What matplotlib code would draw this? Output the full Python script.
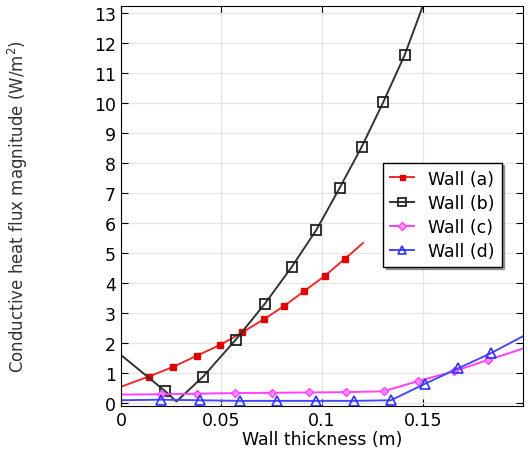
import numpy as np
import matplotlib.pyplot as plt

# Wall (a)
xa = [0.0, 0.0138, 0.0259, 0.0379, 0.0495, 0.0603, 0.0711, 0.0811, 0.091, 0.1013, 0.1113, 0.1204]
ya = [0.54, 0.88, 1.20, 1.58, 1.94, 2.35, 2.79, 3.23, 3.72, 4.23, 4.80, 5.33]
# Wall (b)
xb = [0.0, 0.0221, 0.0276, 0.0409, 0.057, 0.0716, 0.0849, 0.0972, 0.1087, 0.1196, 0.1304, 0.1411, 0.1505]
yb = [1.60, 0.39, 0.05, 0.88, 2.10, 3.31, 4.53, 5.77, 7.16, 8.52, 10.02, 11.6, 13.3]
# Wall (c)
xc = [0.0, 0.0201, 0.0379, 0.0565, 0.0749, 0.0934, 0.112, 0.1306, 0.1478, 0.1658, 0.1824, 0.2003]
yc = [0.28, 0.29, 0.31, 0.33, 0.34, 0.35, 0.36, 0.39, 0.73, 1.06, 1.43, 1.82]
# Wall (d)
xd = [0.0, 0.0201, 0.0392, 0.0591, 0.0774, 0.0968, 0.116, 0.1342, 0.1512, 0.1678, 0.184, 0.2003]
yd = [0.09, 0.11, 0.09, 0.07, 0.07, 0.07, 0.07, 0.09, 0.64, 1.16, 1.66, 2.24]

fig = plt.figure(figsize=(5.28, 4.56), dpi=100)
ax = fig.add_axes([0.229, 0.1075, 0.762, 0.8775])

ax.plot(xa, ya, color='#ee2a2a', lw=1.4, marker='s', ms=4.5, mfc='#e00000', mec='#e00000',
        markevery=list(range(1, len(xa) - 1)), label='Wall (a)')
ax.plot(xb, yb, color='#333333', lw=1.4, marker='s', ms=7, mfc='none', mec='#222222', mew=1.3,
        markevery=[1, 3, 4, 5, 6, 7, 8, 9, 10, 11], label='Wall (b)')
ax.plot(xc, yc, color='#ff40ff', lw=1.4, marker='D', ms=4.5, mfc='#ff90ff', mec='#ff40ff',
        markevery=list(range(1, len(xc) - 1)), label='Wall (c)')
ax.plot(xd, yd, color='#4848ff', lw=1.4, marker='^', ms=6.5, mfc='none', mec='#3030ff', mew=1.2,
        markevery=list(range(1, len(xd) - 1)), label='Wall (d)')

ax.set_xlim(0, 0.2)
ax.set_ylim(-0.1, 13.23)
ax.set_xticks([0, 0.05, 0.1, 0.15])
ax.set_xticklabels(['0', '0.05', '0.1', '0.15'])
ax.set_yticks(range(0, 14))
ax.tick_params(direction='in', top=True, right=True, labelsize=12.5, length=5)
ax.grid(True, color='#e6e6e6', lw=1)
ax.set_axisbelow(True)

ax.set_xlabel('Wall thickness (m)', fontsize=12.5, labelpad=1)
ax.set_ylabel('Conductive heat flux magnitude (W/m$^2$)', fontsize=12, color='#333333', labelpad=46)

leg = ax.legend(loc='upper right', bbox_to_anchor=(0.968, 0.63), fontsize=12.5, fancybox=False,
                shadow=True, edgecolor='black', framealpha=1, handlelength=1.4, borderpad=0.4,
                labelspacing=0.35, markerscale=0.8)
leg.get_frame().set_linewidth(1.0)

fig.savefig('out.png', dpi=100)
